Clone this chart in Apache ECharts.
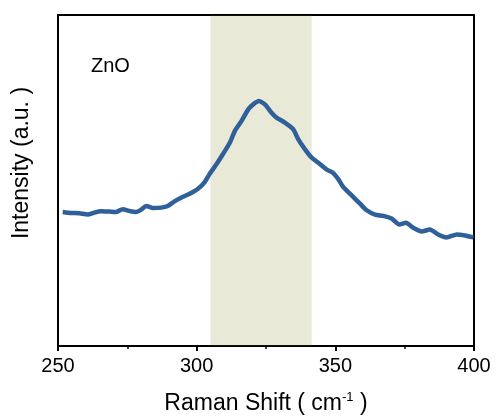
<!DOCTYPE html>
<html><head><meta charset="utf-8">
<script src="https://cdn.jsdelivr.net/npm/echarts@6/dist/echarts.min.js"></script>
<style>html,body{margin:0;padding:0;background:#fff}#c{width:496px;height:420px}</style>
</head><body><div id="c"></div>
<script>
const ramanShift = [251.7,254.7,257.7,260.7,263.1,265.5,268.5,270.9,273.3,275.8,278.1,280.0,281.8,284.2,287.2,289.6,292.0,294.4,297.5,300.5,302.9,304.7,307.2,309.5,312.0,313.8,316.2,318.6,320.4,322.5,324.6,327.0,328.8,331.8,334.8,336.6,339.0,341.4,344.4,346.9,349.2,351.0,352.9,355.9,358.9,361.3,364.3,367.3,370.3,373.1,375.5,378.1,381.1,384.1,387.1,390.1,393.8,396.8,399.8];
const intensity = [40.5,40.2,40.1,39.7,40.3,40.7,40.6,40.5,41.3,40.8,40.5,41.2,42.3,41.7,41.8,42.3,43.7,44.8,46.0,47.5,49.5,52.0,55.0,58.0,61.5,65.0,68.0,71.5,73.0,74.0,73.0,70.5,69.0,67.5,65.5,62.5,59.5,57.0,55.0,53.3,52.3,50.5,48.0,45.5,43.0,41.0,39.7,39.3,38.5,36.7,37.2,35.7,34.6,35.2,33.7,32.8,33.7,33.4,32.8];
const bandRange = [305, 341.5];
const xTicks = [250, 300, 350, 400];
const sampleLabel = 'ZnO';
const yTitle = 'Intensity (a.u. )';

const chart = echarts.init(document.getElementById('c'), null, {renderer:'canvas'});
const FONT = 'Liberation Sans, Arial, sans-serif';
chart.setOption({
  animation: false,
  grid: {left: 58, right: 22, top: 15, bottom: 71, show: true, borderColor: '#000', borderWidth: 2},
  xAxis: {
    type: 'value', min: xTicks[0], max: xTicks[xTicks.length-1], interval: 50,
    axisLine: {show: true, lineStyle: {color: '#000', width: 2}},
    axisTick: {show: true, length: 5, lineStyle: {color: '#000', width: 2}},
    minorTick: {show: true, splitNumber: 2, length: 3, lineStyle: {color: '#000', width: 1.5}},
    splitLine: {show: false},
    axisLabel: {color: '#000', fontSize: 20, fontFamily: FONT, margin: 10},
    name: '{a|Raman Shift ( cm}{s|-1}{a| )}',
    nameLocation: 'middle', nameGap: 45,
    nameTextStyle: {rich: {
      a: {fontSize: 23, fontFamily: FONT, color: '#000'},
      s: {fontSize: 13, fontFamily: FONT, color: '#000', padding: [0,0,12,0]}
    }}
  },
  yAxis: {
    type: 'value', min: 0, max: 100,
    axisLine: {show: true, lineStyle: {color: '#000', width: 2}},
    axisTick: {show: false}, axisLabel: {show: false}, splitLine: {show: false}
  },
  graphic: [
    {type: 'text', left: 91, top: 56, style: {text: sampleLabel, fontSize: 20, fontFamily: FONT, fill: '#000'}},
    {type: 'text', x: 22, y: 163, rotation: Math.PI/2, style: {text: yTitle, fontSize: 23, fontFamily: FONT, fill: '#000', align: 'center', verticalAlign: 'middle'}}
  ],
  series: [
    {type: 'line', z: 2, data: ramanShift.map((x,i)=>[x, intensity[i]]), showSymbol: false, smooth: 0.2,
     lineStyle: {color: '#30609a', width: 4.5}},
    {type: 'line', z: 3, data: [], markArea: {silent: true, itemStyle: {color: 'rgba(111,111,0,0.153)'},
      data: [[{xAxis: bandRange[0]}, {xAxis: bandRange[1]}]]}}
  ]
});
</script></body></html>
